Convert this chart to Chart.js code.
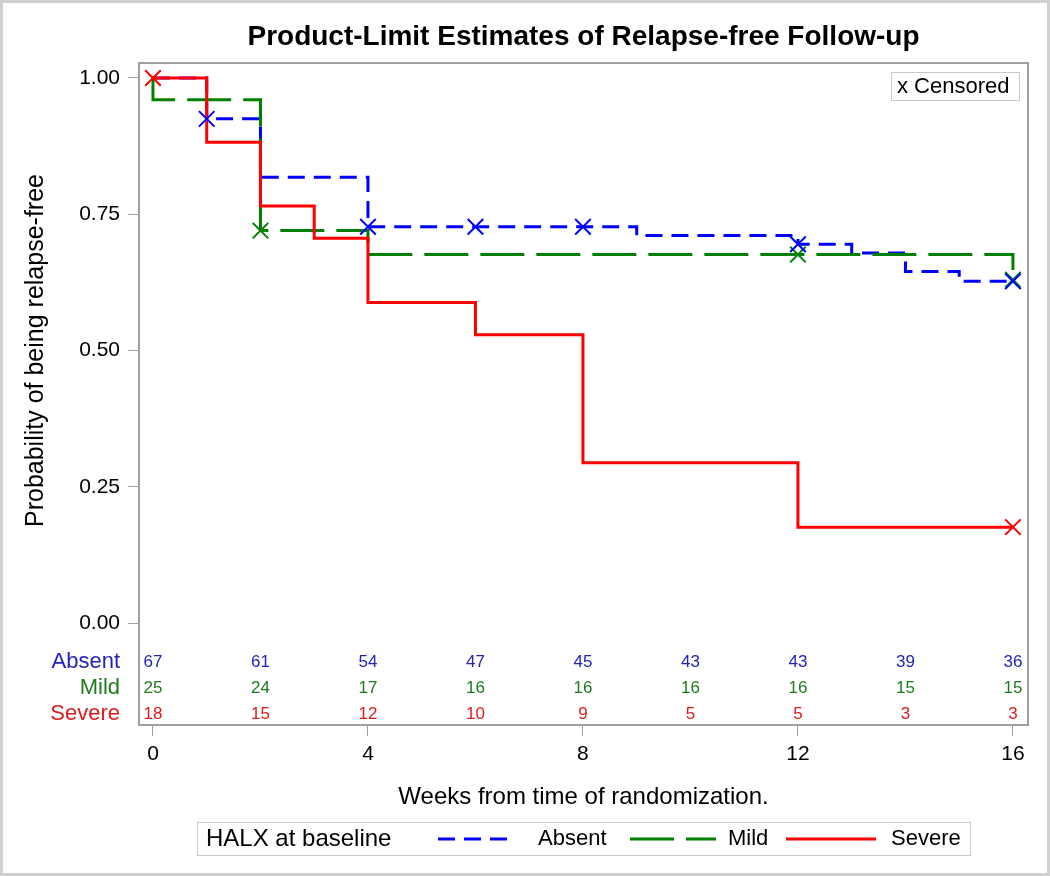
<!DOCTYPE html>
<html>
<head>
<meta charset="utf-8">
<script src="https://cdn.jsdelivr.net/npm/chart.js@4.4.1/dist/chart.umd.min.js"></script>
<style>
  html, body { margin: 0; padding: 0; background: #fff; }
</style>
</head>
<body>
<canvas id="km" width="1050" height="876"></canvas>
<script>
// step curves (week, survival after the step)
const absentTimes = [0, 1, 2, 4, 9, 12, 13, 14, 15, 16];
const absentSurv = [1.0, 0.925, 0.818, 0.727, 0.711, 0.695, 0.679, 0.645, 0.627, 0.627];
const absentCensored = [1, 4, 6, 8, 12, 16];

const mildTimes = [0, 0, 2, 4, 16];
const mildSurv = [1.0, 0.96, 0.72, 0.676, 0.63];
const mildCensored = [2, 12, 16];

const severeTimes = [0, 1, 2, 3, 4, 6, 8, 12, 16];
const severeSurv = [1.0, 0.882, 0.765, 0.706, 0.588, 0.529, 0.294, 0.176, 0.176];
const severeCensored = [0, 16];

// numbers at risk
const riskWeeks = [0, 2, 4, 6, 8, 10, 12, 14, 16];
const absentRisk = [67, 61, 54, 47, 45, 43, 43, 39, 36];
const mildRisk = [25, 24, 17, 16, 16, 16, 16, 15, 15];
const severeRisk = [18, 15, 12, 10, 9, 5, 5, 3, 3];

const groupNames = ["Absent", "Mild", "Severe"];
const xTicks = [0, 4, 8, 12, 16];
const yTicks = [0, 0.25, 0.5, 0.75, 1.0];

const lineColors = ["#0000ff", "#008000", "#ff0000"];
const textColors = ["#2323b8", "#1f7a1f", "#dc1c1c"];
const FONT = "'Liberation Sans', Arial, sans-serif";

function survAt(times, surv, t) {
  let v = surv[0];
  for (let i = 0; i < times.length; i++) if (times[i] <= t) v = surv[i];
  return v;
}
function pts(xs, ys) {
  return xs.map((x, i) => ({ x: x, y: ys[i] }));
}
function censorPts(cens, times, surv) {
  return cens.map((t) => ({ x: t, y: survAt(times, surv, t) }));
}

function stepSet(label, xs, ys, color, dash, order) {
  return {
    label: label,
    data: pts(xs, ys),
    borderColor: color,
    borderWidth: 3,
    borderDash: dash,
    stepped: true,
    pointRadius: 0,
    fill: false,
    order: order,
  };
}
function censorSet(label, data, color) {
  return {
    type: "scatter",
    label: label,
    data: data,
    pointStyle: "crossRot",
    pointRadius: 11,
    borderColor: color,
    borderWidth: 2,
    order: -1,
  };
}

const extras = {
  id: "extras",
  beforeDraw(chart) {
    const ctx = chart.ctx;
    ctx.save();
    ctx.fillStyle = "#fff";
    ctx.fillRect(0, 0, chart.width, chart.height);
    ctx.strokeStyle = "#d0d0d0";
    ctx.lineWidth = 3;
    ctx.strokeRect(1.5, 1.5, chart.width - 3, chart.height - 3);
    ctx.restore();
  },
  afterDraw(chart) {
    const ctx = chart.ctx;
    const a = chart.chartArea;
    const xs = chart.scales.x;
    const ys = chart.scales.y;
    ctx.save();
    // frame
    ctx.strokeStyle = "#a0a0a0";
    ctx.lineWidth = 2;
    ctx.strokeRect(a.left, a.top, a.right - a.left, a.bottom - a.top);

    // y axis title, centred on the 0..1 range
    const y0 = ys.getPixelForValue(0);
    const y1 = ys.getPixelForValue(1);
    ctx.save();
    ctx.translate(36, (y0 + y1) / 2);
    ctx.rotate(-Math.PI / 2);
    ctx.font = "25px " + FONT;
    ctx.fillStyle = "#000";
    ctx.textAlign = "center";
    ctx.textBaseline = "middle";
    ctx.fillText("Probability of being relapse-free", 0, 0);
    ctx.restore();

    // at-risk table
    const rows = [absentRisk, mildRisk, severeRisk];
    ctx.textBaseline = "middle";
    rows.forEach((row, r) => {
      const y = y0 + 39 + r * 26;
      ctx.fillStyle = textColors[r];
      ctx.font = "17px " + FONT;
      ctx.textAlign = "center";
      row.forEach((n, i) => ctx.fillText(String(n), xs.getPixelForValue(riskWeeks[i]), y));
      ctx.font = "22px " + FONT;
      ctx.textAlign = "right";
      ctx.fillText(groupNames[r], a.left - 19, y);
    });

    // censored inset
    ctx.font = "22px " + FONT;
    ctx.textAlign = "left";
    ctx.fillStyle = "#000";
    ctx.strokeStyle = "#c8c8c8";
    ctx.lineWidth = 1;
    ctx.strokeRect(891.5, 72.5, 128, 28);
    ctx.fillText("x Censored", 897, 87);

    // legend
    ctx.strokeRect(197.5, 822.5, 773, 33);
    ctx.font = "24px " + FONT;
    ctx.fillText("HALX at baseline", 206, 839);
    const samples = [
      { x1: 438, x2: 514, tx: 538, dash: [17, 9] },
      { x1: 630, x2: 716, tx: 728, dash: [44, 12] },
      { x1: 786, x2: 876, tx: 891, dash: [] },
    ];
    samples.forEach((s, i) => {
      ctx.strokeStyle = lineColors[i];
      ctx.lineWidth = 3;
      ctx.setLineDash(s.dash);
      ctx.beginPath();
      ctx.moveTo(s.x1, 839);
      ctx.lineTo(s.x2, 839);
      ctx.stroke();
      ctx.setLineDash([]);
      ctx.fillStyle = "#000";
      ctx.font = "22px " + FONT;
      ctx.fillText(groupNames[i], s.tx, 839);
    });
    ctx.restore();
  },
};

new Chart(document.getElementById("km"), {
  type: "line",
  data: {
    datasets: [
      stepSet("Absent", absentTimes, absentSurv, lineColors[0], [17, 9], 2),
      stepSet("Mild", mildTimes, mildSurv, lineColors[1], [44, 12], 1),
      stepSet("Severe", severeTimes, severeSurv, lineColors[2], [], 0),
      censorSet("Absent censored", censorPts(absentCensored, absentTimes, absentSurv), lineColors[0]),
      censorSet("Mild censored", censorPts(mildCensored, mildTimes, mildSurv), lineColors[1]),
      censorSet("Severe censored", censorPts(severeCensored, severeTimes, severeSurv), lineColors[2]),
    ],
  },
  options: {
    responsive: false,
    animation: false,
    layout: { padding: { left: 0, right: 22, top: 0, bottom: 64 } },
    plugins: {
      legend: { display: false },
      tooltip: { enabled: false },
      title: {
        display: true,
        fullSize: false,
        text: "Product-Limit Estimates of Relapse-free Follow-up",
        color: "#000",
        font: { family: FONT, size: 28, weight: "bold", lineHeight: 1 },
        padding: { top: 23, bottom: 12 },
      },
    },
    scales: {
      x: {
        type: "linear",
        min: -0.26,
        max: 16.28,
        afterFit: (s) => { s.height = 87; },
        afterBuildTicks: (s) => { s.ticks = xTicks.map((v) => ({ value: v })); },
        border: { display: false },
        grid: { drawOnChartArea: false, drawTicks: true, tickLength: 11, color: "#a0a0a0", lineWidth: 1 },
        ticks: { color: "#000", padding: 6, maxRotation: 0, font: { family: FONT, size: 21 } },
        title: {
          display: true,
          text: "Weeks from time of randomization.",
          color: "#000",
          padding: 0,
          font: { family: FONT, size: 24 },
        },
      },
      y: {
        type: "linear",
        min: -0.187,
        max: 1.0275,
        afterFit: (s) => { s.width = 139; },
        afterBuildTicks: (s) => { s.ticks = yTicks.map((v) => ({ value: v })); },
        border: { display: false },
        grid: { drawOnChartArea: false, drawTicks: true, tickLength: 11, color: "#a0a0a0", lineWidth: 1 },
        ticks: { color: "#000", padding: 8, font: { family: FONT, size: 21 }, callback: (v) => Number(v).toFixed(2) },
      },
    },
  },
  plugins: [extras],
});
</script>
</body>
</html>
